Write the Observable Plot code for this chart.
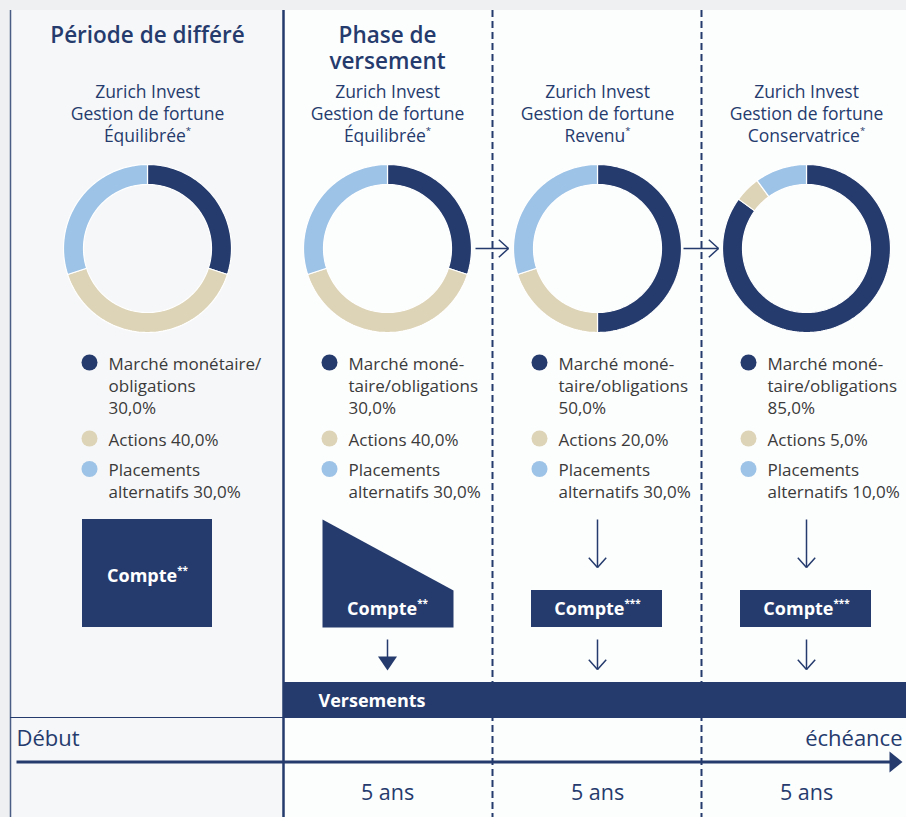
<!DOCTYPE html>
<html><head><meta charset="utf-8">
<script src="https://cdn.jsdelivr.net/npm/d3@7"></script>
<script src="https://cdn.jsdelivr.net/npm/@observablehq/plot@0.6"></script>
<style>html,body{margin:0;padding:0;background:#eef0f1;}</style>
</head><body><div id="chart"></div>
<script>
// ---------- data ----------
const periods = ["Période de différé", "Phase de\nversement", "", ""];
const products = [
  "Zurich Invest\nGestion de fortune\nÉquilibrée*",
  "Zurich Invest\nGestion de fortune\nÉquilibrée*",
  "Zurich Invest\nGestion de fortune\nRevenu*",
  "Zurich Invest\nGestion de fortune\nConservatrice*"
];
const categories = ["Marché monétaire/obligations", "Actions", "Placements alternatifs"];
const shares = [[30, 40, 30], [30, 40, 30], [50, 20, 30], [85, 5, 10]];
const marketLabels = ["Marché monétaire/\nobligations", "Marché moné-\ntaire/obligations", "Marché moné-\ntaire/obligations", "Marché moné-\ntaire/obligations"];
const actionsLabel = "Actions";
const altLabel = "Placements\nalternatifs";
const accounts = ["Compte**", "Compte**", "Compte***", "Compte***"];
const durations = ["", "5 ans", "5 ans", "5 ans"];
const paymentsLabel = "Versements";
const startLabel = "Début";
const endLabel = "échéance";

// ---------- styles / layout ----------
const navy = "#253b6d", beige = "#ddd3b6", sky = "#9dc3e6";
const palette = [navy, beige, sky];
const textGrey = "#3a3a3a";
const W = 906, H = 817, TOP = 10, LEFT = 10;
const cx = [147, 387, 597, 806];
const solidX = 283, dashedX = [492, 701];
const donutY = 248, R = 84, R0 = 64;
const fmt = v => d3.format(".1f")(v).replace(".", ",") + "%";
// Plot offsets the first line of a top-anchored block by 0.71em * lineHeight
const topY = (baseline, fs, lh) => baseline - 0.71 * fs * lh;

// donut slices (polygons built from d3.pie angles)
const slicePts = [];
shares.forEach((vals, i) => {
  d3.pie().sort(null).value(d => d)(vals).forEach((a, j) => {
    const n = Math.max(2, Math.ceil((a.endAngle - a.startAngle) / (Math.PI / 120)));
    const id = i + "-" + j;
    for (let k = 0; k <= n; k++) {
      const t = a.startAngle + (a.endAngle - a.startAngle) * k / n;
      slicePts.push({id, cat: categories[j], x: cx[i] + R * Math.sin(t), y: donutY - R * Math.cos(t)});
    }
    for (let k = n; k >= 0; k--) {
      const t = a.startAngle + (a.endAngle - a.startAngle) * k / n;
      slicePts.push({id, cat: categories[j], x: cx[i] + R0 * Math.sin(t), y: donutY - R0 * Math.cos(t)});
    }
  });
});

// legend rows
const LFS = 17, LLH = 1.32;
const rowBase = [369, 445, 475.5];
const legendRows = [];
shares.forEach((vals, i) => {
  const labels = [marketLabels[i] + "\n" + fmt(vals[0]), actionsLabel + " " + fmt(vals[1]), altLabel + " " + fmt(vals[2])];
  labels.forEach((lab, j) => legendRows.push({col: i, cat: categories[j], text: lab, x: cx[i], base: rowBase[j]}));
});

// arrows (chevron heads)
function chevron(x1, y1, x2, y2, len = 13, ang = 42) {
  const a = Math.atan2(y2 - y1, x2 - x1), h = ang * Math.PI / 180;
  return [
    {x1, y1, x2, y2},
    {x1: x2, y1: y2, x2: x2 - len * Math.cos(a - h), y2: y2 - len * Math.sin(a - h)},
    {x1: x2, y1: y2, x2: x2 - len * Math.cos(a + h), y2: y2 - len * Math.sin(a + h)}
  ];
}
const arrowSegs = [
  ...chevron(475, donutY, 508, donutY),
  ...chevron(683, donutY, 718, donutY),
  ...chevron(cx[2], 519, cx[2], 567),
  ...chevron(cx[3], 519, cx[3], 567),
  ...chevron(cx[2], 639, cx[2], 669),
  ...chevron(cx[3], 639, cx[3], 669)
];

// account boxes
const boxes = [
  {x1: cx[0] - 65, x2: cx[0] + 65, y1: 519, y2: 627},
  {x1: cx[2] - 66, x2: cx[2] + 65, y1: 590, y2: 627},
  {x1: cx[3] - 66, x2: cx[3] + 65, y1: 590, y2: 627}
];
const bx1 = cx[1] - 65, bx2 = cx[1] + 66;
const wedge = [{x: bx1, y: 519}, {x: bx2, y: 590}, {x: bx2, y: 627}, {x: bx1, y: 627}];
const accountText = accounts.map((t, i) => ({text: t, x: cx[i], y: i === 0 ? 576 : 609}));

// filled heads
const filledHeads = [
  {id: "a", x: cx[1] - 9.5, y: 656}, {id: "a", x: cx[1] + 9.5, y: 656}, {id: "a", x: cx[1], y: 670},
  {id: "b", x: 889, y: 751}, {id: "b", x: 902, y: 761.5}, {id: "b", x: 889, y: 772}
];

const chart = Plot.plot({
  width: W, height: H, margin: 0,
  x: {type: "identity", axis: null},
  y: {type: "identity", axis: null},
  color: {domain: categories, range: palette},
  style: {background: "#eef0f1", fontFamily: "'Open Sans', sans-serif", overflow: "visible"},
  marks: [
    // panels
    Plot.rect([{}], {x1: LEFT, x2: solidX, y1: TOP, y2: H, fill: "#f6f7f8"}),
    Plot.rect([{}], {x1: solidX, x2: W, y1: TOP, y2: H, fill: "#fcfdfd"}),
    // dividers
    Plot.ruleX(dashedX, {y1: TOP, y2: H, stroke: navy, strokeWidth: 2, strokeDasharray: "7,4"}),
    Plot.ruleX([LEFT], {y1: TOP, y2: H, stroke: "#4a5d85", strokeWidth: 1.5}),
    Plot.ruleY([717], {x1: LEFT, x2: W, stroke: navy, strokeWidth: 1.2}),
    // headings
    Plot.text(periods, {x: (d, i) => cx[i], y: topY(42, 22.5, 1.17), text: d => d, lineAnchor: "top", lineHeight: 1.17, fontSize: 22.5, fontWeight: 600, fill: navy}),
    Plot.text(products, {x: (d, i) => cx[i], y: topY(97, 17.5, 1.28), text: d => d, lineAnchor: "top", lineHeight: 1.28, fontSize: 17.5, fill: navy}),
    // donuts
    Plot.line(slicePts, {x: "x", y: "y", z: "id", fill: "cat", stroke: "white", strokeWidth: 1.2, curve: "linear-closed"}),
    // legend
    Plot.dot(legendRows, {x: d => d.x - 58, y: d => d.base - 7, r: 8, fill: "cat"}),
    Plot.text(legendRows, {x: d => d.x - 39, y: d => topY(d.base, LFS, LLH), text: "text", textAnchor: "start", lineAnchor: "top", lineHeight: LLH, fontSize: LFS, fill: textGrey}),
    // account boxes
    Plot.rect(boxes, {x1: "x1", x2: "x2", y1: "y1", y2: "y2", fill: navy}),
    Plot.line(wedge, {x: "x", y: "y", fill: navy, stroke: "none", curve: "linear-closed"}),
    Plot.text(accountText, {x: "x", y: "y", text: "text", fontSize: 18, fontWeight: 700, fill: "white"}),
    // arrows
    Plot.link(arrowSegs, {x1: "x1", y1: "y1", x2: "x2", y2: "y2", stroke: navy, strokeWidth: 1.5}),
    Plot.link([{}], {x1: cx[1], x2: cx[1], y1: 639, y2: 658, stroke: navy, strokeWidth: 1.5}),
    Plot.line(filledHeads, {x: "x", y: "y", z: "id", fill: navy, stroke: "none", curve: "linear-closed"}),
    // payments bar
    Plot.rect([{}], {x1: solidX, x2: W, y1: 682, y2: 717, fill: navy}),
    Plot.text([paymentsLabel], {x: 318, y: 701, text: d => d, textAnchor: "start", fontSize: 18, fontWeight: 700, fill: "white"}),
    Plot.ruleX([solidX], {y1: TOP, y2: H, stroke: navy, strokeWidth: 2.5}),
    // timeline
    Plot.link([{}], {x1: 16, x2: 891, y1: 761.5, y2: 761.5, stroke: navy, strokeWidth: 3}),
    Plot.text([startLabel], {x: 16, y: 738, text: d => d, textAnchor: "start", fontSize: 22, fill: navy}),
    Plot.text([endLabel], {x: 902, y: 738, text: d => d, textAnchor: "end", fontSize: 22, fill: navy}),
    Plot.text(durations, {x: (d, i) => cx[i], y: 793, text: d => d, fontSize: 21.5, fill: navy})
  ]
});

// superscript asterisks
chart.querySelectorAll("text, tspan").forEach(node => {
  if (node.childElementCount === 0) {
    const m = node.textContent.match(/^(.*?)(\*+)$/s);
    if (m) {
      node.textContent = m[1];
      const sup = document.createElementNS("http://www.w3.org/2000/svg", "tspan");
      sup.setAttribute("font-size", "55%");
      sup.setAttribute("dy", "-0.85em");
      sup.textContent = m[2];
      node.appendChild(sup);
    }
  }
});
document.getElementById("chart").appendChild(chart);
</script>
</body></html>
